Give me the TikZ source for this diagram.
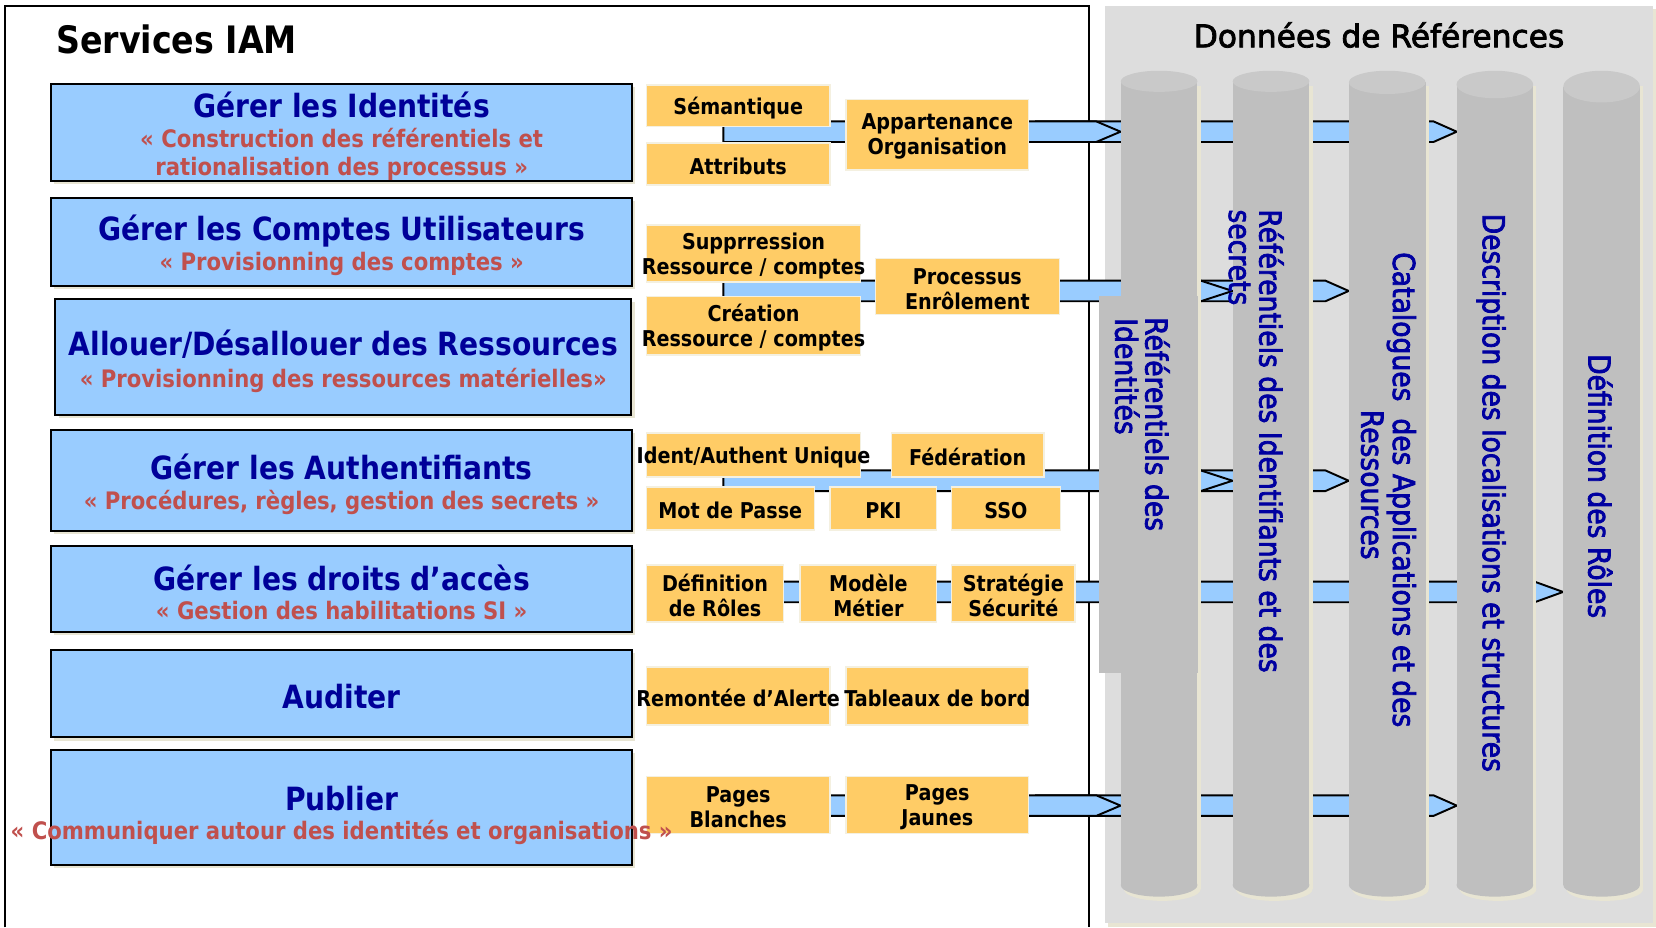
\documentclass[tikz,border=0pt]{standalone}
\usepackage{fontspec}
\setmainfont{DejaVu Sans}[FakeStretch=0.88]
\newfontfamily\verdana{DejaVu Sans}[FakeBold=2.5]
\newfontfamily\tahoma{DejaVu Sans}[FakeStretch=0.88, FakeBold=2.5]
\usetikzlibrary{positioning,calc,fit,shadows}

\definecolor{bleuclair}{HTML}{99CCFF}
\definecolor{marine}{HTML}{000099}
\definecolor{rouge}{HTML}{C0504D}
\definecolor{jaune}{HTML}{FFCC66}
\definecolor{bordjaune}{HTML}{F4F0E0}
\definecolor{ombre}{HTML}{E8E5D3}
\definecolor{panneau}{HTML}{DDDDDD}
\definecolor{cylindre}{HTML}{BFBFBF}
\definecolor{dessus}{HTML}{C9C9C9}
\definecolor{bleutexte}{HTML}{0000A0}

% liaison pleine (#1 depart, #2 cylindre vise, #3 longueur de pointe)
\newcommand{\bande}[3]{%
  \filldraw[lien] ($(#1)+(0,-9.75)$) -- ($(#2 |- #1)+(-#3,-9.75)$) -- (#2 |- #1)
    -- ($(#2 |- #1)+(-#3,9.75)$) -- ($(#1)+(0,9.75)$) -- cycle;}
% pointe seule, sans bord gauche
\newcommand{\pointe}[3]{%
  \filldraw[lien] ($(#1)+(0,-9.75)$) -- ($(#2 |- #1)+(-#3,-9.75)$) -- (#2 |- #1)
    -- ($(#2 |- #1)+(-#3,9.75)$) -- ($(#1)+(0,9.75)$);}

\begin{document}
\begin{tikzpicture}[x=0.021122cm, y=-0.021122cm]
  \tikzstyle{gestion}=[draw=black, line width=1.1pt, fill=bleuclair, inner sep=0pt,
    general shadow={fill=ombre, shadow xshift=1.8pt, shadow yshift=-1.8pt}]
  \tikzstyle{brique}=[fill=jaune, draw=bordjaune, line width=0.8pt, inner sep=0pt]
  \tikzstyle{titre}=[text=marine, font=\bfseries\fontsize{18.2}{20}\selectfont, inner sep=0pt, anchor=base]
  \tikzstyle{soustitre}=[text=rouge, font=\bfseries\fontsize{13.7}{16}\selectfont, inner sep=0pt, anchor=base]
  \tikzstyle{etiquette}=[font=\bfseries\fontsize{12.4}{14.2}\selectfont, align=center, inner sep=0pt, yshift=-1.2pt]
  \tikzstyle{vertical}=[text=bleutexte, font=\tahoma\fontsize{17.2}{17.2}\selectfont, rotate=-90, anchor=base west, inner sep=0pt]
  \tikzstyle{lien}=[fill=bleuclair, draw=black, line width=1.1pt, line join=miter]
  \tikzstyle{cadre}=[draw=black, line width=1.1pt]

  \useasboundingbox (0,0) rectangle (1568,878);

  % Panneau des données de référence
  \fill[ombre] (1049,9) rectangle (1568,878);
  \fill[panneau] (1046,5.7) rectangle (1565.5,874);
  \node[font=\verdana\fontsize{17.8}{20}\selectfont, anchor=base west, inner sep=0pt] (donnees) at (1130,44.8) {Données de Références};

  % Cadre des services
  \draw[cadre] (5.1,878) -- (5.1,5.7) -- (1031.4,5.7) -- (1031.4,878);
  \node[font=\bfseries\fontsize{21.5}{24}\selectfont, anchor=base west, inner sep=0pt] (services) at (52.8,50.5) {Services IAM};

  % Bords gauches des cylindres
  \coordinate (c1) at (1061,77);
  \coordinate (c2) at (1167,77);
  \coordinate (c3) at (1277,77);
  \coordinate (c4) at (1379.3,77);
  \coordinate (c5) at (1480,77);

  % Départs des liaisons
  \coordinate (d1) at (685,124.7);
  \coordinate (d2) at (685,275.5);
  \coordinate (d3) at (685,455.2);
  \coordinate (d4) at (685,560.5);
  \coordinate (d6) at (685,762.8);
  \coordinate (e1) at (980,124.7);
  \coordinate (e2) at (1100,275.5);
  \coordinate (e3) at (1100,455.2);
  \coordinate (e6) at (980,762.8);

  % Liaisons
  \bande{d1}{c4}{22}
  \pointe{e1}{c1}{23}
  \bande{d2}{c3}{22}
  \pointe{e2}{c2}{30}
  \bande{d3}{c3}{22}
  \pointe{e3}{c2}{30}
  \bande{d4}{c5}{27}
  \bande{d6}{c4}{22}
  \pointe{e6}{c1}{23}

  % Cylindres
  \foreach \x/\ry in {1097.5/10, 1203.5/10, 1313.5/11, 1415.4/13, 1516.5/15} {
    \fill[ombre] (\x-33.3,81) rectangle (\x+39.3,842);
    \fill[ombre] (\x+3,842) ellipse [x radius=36.3, y radius=11];
    \fill[cylindre] (\x-36.3,67+\ry) rectangle (\x+36.3,838);
    \fill[cylindre] (\x,838) ellipse [x radius=36.3, y radius=11];
    \fill[dessus] (\x,67+\ry) ellipse [x radius=36.3, y radius=\ry];
  }
  \fill[cylindre] (1040.6,280) rectangle (1134,637);

  % Textes des cylindres
  \node[vertical] (ref1) at (1084.6,300) {Référentiels des};
  \node[vertical] (ref1b) at (1056,301) {Identités};
  \node[vertical] (ref2) at (1192.5,198) {Référentiels des Identifiants et des};
  \node[vertical] (ref2b) at (1163.7,198) {secrets};
  \node[vertical] (ref3) at (1319,238.5) {Catalogues\ \ des Applications et des};
  \node[vertical, anchor=base] (ref3b) at (1289,459) {Ressources};
  \node[vertical] (ref4) at (1404,202) {Description des localisations et structures};
  \node[vertical] (ref5) at (1504,335) {Définition des Rôles};

  % Services
  \node[gestion, fit={(48.6,79.5) (598.5,171)}] (g1) {};
  \node[titre] (g1t) at (323.5,111) {Gérer les Identités};
  \node[soustitre] (g1s) at (323.5,140) {« Construction des référentiels et};
  \node[soustitre] (g1s2) at (323.5,166.5) {rationalisation des processus »};

  \node[gestion, fit={(48.6,187.8) (598.5,270.5)}] (g2) {};
  \node[titre] (g2t) at (323.5,228) {Gérer les Comptes Utilisateurs};
  \node[soustitre] (g2s) at (323.5,256.5) {« Provisionning des comptes »};

  \node[gestion, fit={(52.4,283.4) (597.8,393)}] (g3) {};
  \node[titre] (g3t) at (325,337) {Allouer/Désallouer des Ressources};
  \node[soustitre] (g3s) at (325,366.5) {« Provisionning des ressources matérielles»};

  \node[gestion, fit={(48.6,407) (598.5,502.5)}] (g4) {};
  \node[titre] (g4t) at (323.5,454) {Gérer les Authentifiants};
  \node[soustitre] (g4s) at (323.5,482.5) {« Procédures, règles, gestion des secrets »};

  \node[gestion, fit={(48.6,516.7) (598.5,598.7)}] (g5) {};
  \node[titre] (g5t) at (323.5,559) {Gérer les droits d’accès};
  \node[soustitre] (g5s) at (323.5,586.5) {« Gestion des habilitations SI »};

  \node[gestion, fit={(48.6,615.5) (598.5,698.2)}] (g6) {};
  \node[titre] (g6t) at (323.5,671) {Auditer};

  \node[gestion, fit={(48.6,710) (598.5,819)}] (g7) {};
  \node[titre] (g7t) at (323.5,767) {Publier};

  % Briques
  \node[brique, fit={(612,80.5) (786,120)}] (sem) {};
  \node[etiquette] (sem-t) at (sem) {Sémantique};
  \node[brique, fit={(612,135.5) (786,175)}] (attr) {};
  \node[etiquette] (attr-t) at (attr) {Attributs};
  \node[brique, fit={(801,94) (974,161)}] (app) {};
  \node[etiquette] (app-t) at (app) {Appartenance\\Organisation};

  \node[brique, fit={(612,213) (815,267)}] (sup) {};
  \node[etiquette] (sup-t) at (sup) {Supprression\\Ressource / comptes};
  \node[brique, fit={(612,281) (815,336)}] (cre) {};
  \node[etiquette] (cre-t) at (cre) {Création\\Ressource / comptes};
  \node[brique, fit={(829,245) (1003,298)}] (proc) {};
  \node[etiquette] (proc-t) at (proc) {Processus\\Enrôlement};

  \node[brique, fit={(612,410) (815,451.6)}] (ident) {};
  \node[etiquette] (ident-t) at (ident) {Ident/Authent Unique};
  \node[brique, fit={(844,410) (988.5,451.6)}] (fed) {};
  \node[etiquette] (fed-t) at (fed) {Fédération};
  \node[brique, fit={(612,461) (771,502)}] (mdp) {};
  \node[etiquette] (mdp-t) at (mdp) {Mot de Passe};
  \node[brique, fit={(786,461) (887,502)}] (pki) {};
  \node[etiquette] (pki-t) at (pki) {PKI};
  \node[brique, fit={(901,461) (1004,502)}] (sso) {};
  \node[etiquette] (sso-t) at (sso) {SSO};

  \node[brique, fit={(612,535) (742,589)}] (def) {};
  \node[etiquette] (def-t) at (def) {Définition\\de Rôles};
  \node[brique, fit={(757.6,535) (887,589)}] (mod) {};
  \node[etiquette] (mod-t) at (mod) {Modèle\\Métier};
  \node[brique, fit={(901,535) (1018,589)}] (strat) {};
  \node[etiquette] (strat-t) at (strat) {Stratégie\\Sécurité};

  \node[brique, fit={(612,631.5) (786,686.5)}] (rem) {};
  \node[etiquette] (rem-t) at (rem) {Remontée d’Alerte};
  \node[brique, fit={(801,631.5) (974,686.5)}] (tab) {};
  \node[etiquette] (tab-t) at (tab) {Tableaux de bord};

  \node[brique, fit={(612,735) (786,789)}] (pb) {};
  \node[etiquette] (pb-t) at (pb) {Pages\\Blanches};
  \node[brique, fit={(801,735) (974,789)}] (pj) {};
  \node[etiquette] (pj-t) at (pj) {Pages\\Jaunes};

  % sous-titre de Publier, par-dessus la brique
  \node[soustitre] (g7s) at (323.5,795) {« Communiquer autour des identités et organisations »};
\end{tikzpicture}
\end{document}
